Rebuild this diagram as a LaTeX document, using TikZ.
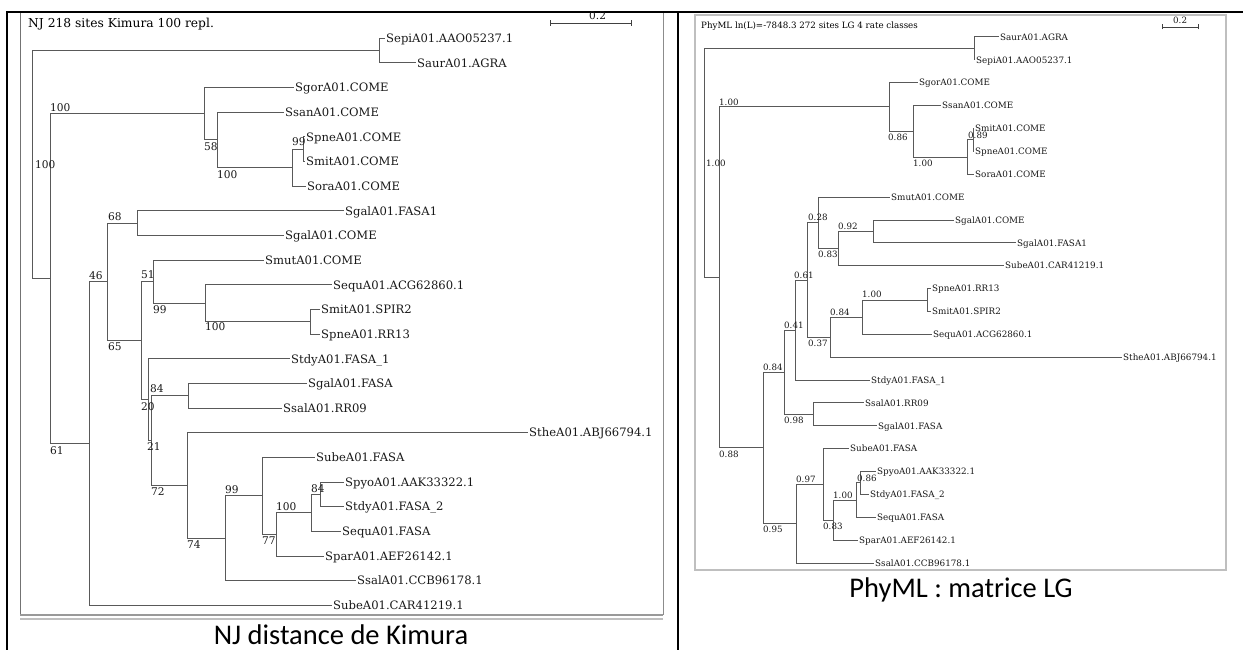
\documentclass[tikz,border=0pt]{standalone}
\usepackage{fontspec}
\setmainfont{Carlito}
\newfontfamily\treefont{DejaVu Serif}
\begin{document}
\begin{tikzpicture}[x=1pt,y=-1pt,
  br/.style={draw=black!65, line width=1pt},
  lfl/.style={anchor=west, inner xsep=1pt, inner ysep=0pt, text height=8.4pt, text depth=0pt, text=black!90, font=\treefont\fontsize{11.6}{13}\selectfont},
  bsl/.style={anchor=west, inner sep=0pt, text height=7.7pt, text depth=0pt, text=black!90, font=\treefont\fontsize{10.6}{12}\selectfont},
  lfr/.style={anchor=west, inner xsep=1pt, inner ysep=0pt, text height=6.4pt, text depth=0pt, text=black!90, font=\treefont\fontsize{8.8}{10}\selectfont},
  bsr/.style={anchor=west, inner sep=0pt, text height=6.3pt, text depth=0pt, text=black!90, font=\treefont\fontsize{8.7}{10}\selectfont},
  capt/.style={anchor=base, inner sep=0pt, font=\fontsize{28.5}{30}\selectfont},
  tbl/.style={draw=black, line width=2pt},
  fr/.style={draw=black!55, line width=1pt},
  frr/.style={draw=black!25, line width=1.4pt}
]
\useasboundingbox (0,0) rectangle (1243,650);
\fill[white] (0,0) rectangle (1243,650);

% ---------- frames ----------
\draw[fr] (20,12) -- (20,615);
\draw[draw=black!45, line width=1pt] (663,12) -- (663,615);
\draw[draw=black!40, line width=1.6pt] (20,615) -- (663,615);
\draw[draw=black!25, line width=1.6pt] (20,619) -- (663,619);
\draw[frr] (695,15) rectangle (1226,570);
\draw[tbl] (7,650) -- (7,12) -- (1243,12);
\draw[tbl] (678,12) -- (678,650);

% ---------- left tree (NJ) ----------
\node[anchor=west, inner sep=0pt, text height=8.8pt, text depth=0pt, font=\treefont\fontsize{12.3}{14}\selectfont] (ltitle) at (28,23) {NJ 218 sites Kimura 100 repl.};
\coordinate (lsb1) at (550,23);
\coordinate (lsb2) at (631,23);
\draw[draw=black!75, line width=0.9pt] (lsb1) -- (lsb2);
\draw[draw=black!75, line width=0.9pt] ([yshift=-3pt]lsb1) -- ([yshift=3pt]lsb1);
\draw[draw=black!75, line width=0.9pt] ([yshift=-3pt]lsb2) -- ([yshift=3pt]lsb2);
\node[bsl] (lsbt) at (589,16) {0.2};

\node[lfl] (l1) at (385,38.3) {SepiA01.AAO05237.1};
\node[lfl] (l2) at (416,63) {SaurA01.AGRA};
\node[lfl] (l3) at (294,87.6) {SgorA01.COME};
\node[lfl] (l4) at (284,112.3) {SsanA01.COME};
\node[lfl] (l5) at (305,136.9) {SpneA01.COME};
\node[lfl] (l6) at (305,161.6) {SmitA01.COME};
\node[lfl] (l7) at (306,186.2) {SoraA01.COME};
\node[lfl] (l8) at (344,210.9) {SgalA01.FASA1};
\node[lfl] (l9) at (284,235.5) {SgalA01.COME};
\node[lfl] (l10) at (264,260.2) {SmutA01.COME};
\node[lfl] (l11) at (332,284.8) {SequA01.ACG62860.1};
\node[lfl] (l12) at (320,309.5) {SmitA01.SPIR2};
\node[lfl] (l13) at (320,334.1) {SpneA01.RR13};
\node[lfl] (l14) at (290,358.8) {StdyA01.FASA\_1};
\node[lfl] (l15) at (307,383.4) {SgalA01.FASA};
\node[lfl] (l16) at (282,408.1) {SsalA01.RR09};
\node[lfl] (l17) at (528,432.7) {StheA01.ABJ66794.1};
\node[lfl] (l18) at (315,457.4) {SubeA01.FASA};
\node[lfl] (l19) at (344,482) {SpyoA01.AAK33322.1};
\node[lfl] (l20) at (344,506.7) {StdyA01.FASA\_2};
\node[lfl] (l21) at (341,531.3) {SequA01.FASA};
\node[lfl] (l22) at (324,556) {SparA01.AEF26142.1};
\node[lfl] (l23) at (356,580.6) {SsalA01.CCB96178.1};
\node[lfl] (l24) at (332,605.3) {SubeA01.CAR41219.1};

\coordinate (lR) at (32,164.7);
\coordinate (lSS) at (379,50.65);
\coordinate (l50) at (50,278.7);
\coordinate (lA) at (204,113.8);
\coordinate (lA2) at (217,140);
\coordinate (lA3) at (292,167.7);
\coordinate (lA4) at (303,149.25);
\coordinate (lB) at (89,443.6);
\coordinate (lC) at (107,281.95);
\coordinate (lD) at (137,223.2);
\coordinate (lE) at (141,340.7);
\coordinate (lF) at (153,281.75);
\coordinate (lH) at (205,303.3);
\coordinate (lI) at (310,321.8);
\coordinate (lG) at (148,399.7);
\coordinate (lJ) at (151,440.6);
\coordinate (lK) at (188,395.75);
\coordinate (lL) at (187,485.5);
\coordinate (lM) at (225,538.25);
\coordinate (lN) at (262,495.9);
\coordinate (lO) at (276,534.4);
\coordinate (lP) at (311,512.8);
\coordinate (lQ) at (320,494.35);

\foreach \p/\c in {lR/lSS, lR/l50, l50/lA, l50/lB, lA/lA2, lA2/lA3, lA3/lA4,
  lB/lC, lC/lD, lC/lE, lE/lF, lE/lG, lF/lH, lH/lI, lG/lJ, lJ/lK, lJ/lL,
  lL/lM, lM/lN, lN/lO, lO/lP, lP/lQ}
  \draw[br] (\p) |- (\c);
\foreach \p/\c in {lSS/l1, lSS/l2, lA/l3, lA2/l4, lA4/l5, lA4/l6, lA3/l7,
  lD/l8, lD/l9, lF/l10, lH/l11, lI/l12, lI/l13, lG/l14, lK/l15, lK/l16,
  lL/l17, lN/l18, lQ/l19, lQ/l20, lP/l21, lO/l22, lM/l23, lB/l24}
  \draw[br] (\p) |- (\c.west);

\node[bsl] (lb1) at (50,108) {100};
\node[bsl] (lb2) at (35,165) {100};
\node[bsl] (lb3) at (204,147) {58};
\node[bsl] (lb4) at (217,175) {100};
\node[bsl] (lb5) at (292,142) {99};
\node[bsl] (lb6) at (108,217) {68};
\node[bsl] (lb7) at (89,276) {46};
\node[bsl] (lb8) at (141,275) {51};
\node[bsl] (lb9) at (153,310) {99};
\node[bsl] (lb10) at (205,327) {100};
\node[bsl] (lb11) at (108,347) {65};
\node[bsl] (lb12) at (150,389) {84};
\node[bsl] (lb13) at (141,407) {20};
\node[bsl] (lb14) at (147,447) {21};
\node[bsl] (lb15) at (50,451) {61};
\node[bsl] (lb16) at (151,492) {72};
\node[bsl] (lb17) at (225,490) {99};
\node[bsl] (lb18) at (187,545) {74};
\node[bsl] (lb19) at (276,507) {100};
\node[bsl] (lb20) at (311,489) {84};
\node[bsl] (lb21) at (262,541) {77};

\node[capt] (cap1) at (341,644.5) {NJ distance de Kimura};

% ---------- right tree (PhyML) ----------
\node[anchor=west, inner sep=0pt, text height=6.3pt, text depth=0pt, font=\treefont\fontsize{8.7}{10}\selectfont] (rtitle) at (701,25) {PhyML ln(L)=-7848.3 272 sites LG 4 rate classes};
\coordinate (rsb1) at (1162,27);
\coordinate (rsb2) at (1198,27);
\draw[draw=black!75, line width=0.8pt] (rsb1) -- (rsb2);
\draw[draw=black!75, line width=0.8pt] ([yshift=-2.5pt]rsb1) -- ([yshift=2.5pt]rsb1);
\draw[draw=black!75, line width=0.8pt] ([yshift=-2.5pt]rsb2) -- ([yshift=2.5pt]rsb2);
\node[bsr] (rsbt) at (1173,20) {0.2};

\node[lfr] (r1) at (999,37) {SaurA01.AGRA};
\node[lfr] (r2) at (975,59.9) {SepiA01.AAO05237.1};
\node[lfr] (r3) at (918,82.7) {SgorA01.COME};
\node[lfr] (r4) at (941,105.6) {SsanA01.COME};
\node[lfr] (r5) at (974,128.5) {SmitA01.COME};
\node[lfr] (r6) at (974,151.4) {SpneA01.COME};
\node[lfr] (r7) at (974,174.2) {SoraA01.COME};
\node[lfr] (r8) at (890,197.1) {SmutA01.COME};
\node[lfr] (r9) at (954,220) {SgalA01.COME};
\node[lfr] (r10) at (1016,242.8) {SgalA01.FASA1};
\node[lfr] (r11) at (1004,265.7) {SubeA01.CAR41219.1};
\node[lfr] (r12) at (931,288.6) {SpneA01.RR13};
\node[lfr] (r13) at (931,311.4) {SmitA01.SPIR2};
\node[lfr] (r14) at (932,334.3) {SequA01.ACG62860.1};
\node[lfr] (r15) at (1122,357.2) {StheA01.ABJ66794.1};
\node[lfr] (r16) at (870,380.1) {StdyA01.FASA\_1};
\node[lfr] (r17) at (864,402.9) {SsalA01.RR09};
\node[lfr] (r18) at (877,425.8) {SgalA01.FASA};
\node[lfr] (r19) at (849,448.7) {SubeA01.FASA};
\node[lfr] (r20) at (876,471.5) {SpyoA01.AAK33322.1};
\node[lfr] (r21) at (869,494.4) {StdyA01.FASA\_2};
\node[lfr] (r22) at (876,517.3) {SequA01.FASA};
\node[lfr] (r23) at (858,540.1) {SparA01.AEF26142.1};
\node[lfr] (r24) at (874,563) {SsalA01.CCB96178.1};

\coordinate (rR) at (704,163);
\coordinate (rSS) at (974,48.45);
\coordinate (r100) at (719,277.5);
\coordinate (rA) at (889,107);
\coordinate (rA2) at (913,131.35);
\coordinate (rA3) at (967,157.1);
\coordinate (rA4) at (973,139.95);
\coordinate (r84) at (763,447.95);
\coordinate (r41) at (784,372.2);
\coordinate (r61) at (795,330.05);
\coordinate (rZ) at (807,280);
\coordinate (rV) at (818,222.8);
\coordinate (rU) at (838,248.55);
\coordinate (rT) at (873,231.4);
\coordinate (rY) at (830,337.2);
\coordinate (rX) at (862,317.15);
\coordinate (rW) at (927,300);
\coordinate (r98) at (813,414.35);
\coordinate (r97) at (796,523.7);
\coordinate (r97a) at (823,484.4);
\coordinate (r83) at (833,520.1);
\coordinate (r100b) at (856,500.1);
\coordinate (r86) at (860,482.95);

\foreach \p/\c in {rR/rSS, rR/r100, r100/rA, r100/r84, rA/rA2, rA2/rA3, rA3/rA4,
  r84/r41, r84/r97, r41/r61, r41/r98, r61/rZ, rZ/rV, rZ/rY, rV/rU, rU/rT,
  rY/rX, rX/rW, r97/r97a, r97a/r83, r83/r100b, r100b/r86}
  \draw[br] (\p) |- (\c);
\foreach \p/\c in {rSS/r1, rSS/r2, rA/r3, rA2/r4, rA4/r5, rA4/r6, rA3/r7,
  rV/r8, rT/r9, rT/r10, rU/r11, rW/r12, rW/r13, rX/r14, rY/r15, r61/r16,
  r98/r17, r98/r18, r97a/r19, r86/r20, r86/r21, r100b/r22, r83/r23, r97/r24}
  \draw[br] (\p) |- (\c.west);

\node[bsr] (rb1) at (719,102) {1.00};
\node[bsr] (rb2) at (706,163) {1.00};
\node[bsr] (rb3) at (888,137) {0.86};
\node[bsr] (rb4) at (913,163) {1.00};
\node[bsr] (rb5) at (968,135) {0.89};
\node[bsr] (rb6) at (808,217) {0.28};
\node[bsr] (rb7) at (838,226) {0.92};
\node[bsr] (rb8) at (818,254) {0.83};
\node[bsr] (rb9) at (794,275) {0.61};
\node[bsr] (rb10) at (862,294) {1.00};
\node[bsr] (rb11) at (830,312) {0.84};
\node[bsr] (rb12) at (784,325) {0.41};
\node[bsr] (rb13) at (808,343) {0.37};
\node[bsr] (rb14) at (763,367) {0.84};
\node[bsr] (rb15) at (784,420) {0.98};
\node[bsr] (rb16) at (719,454) {0.88};
\node[bsr] (rb17) at (796,479) {0.97};
\node[bsr] (rb18) at (857,478) {0.86};
\node[bsr] (rb19) at (833,495) {1.00};
\node[bsr] (rb20) at (823,526) {0.83};
\node[bsr] (rb21) at (763,529) {0.95};

\node[capt] (cap2) at (961,597) {PhyML : matrice LG};
\end{tikzpicture}
\end{document}
